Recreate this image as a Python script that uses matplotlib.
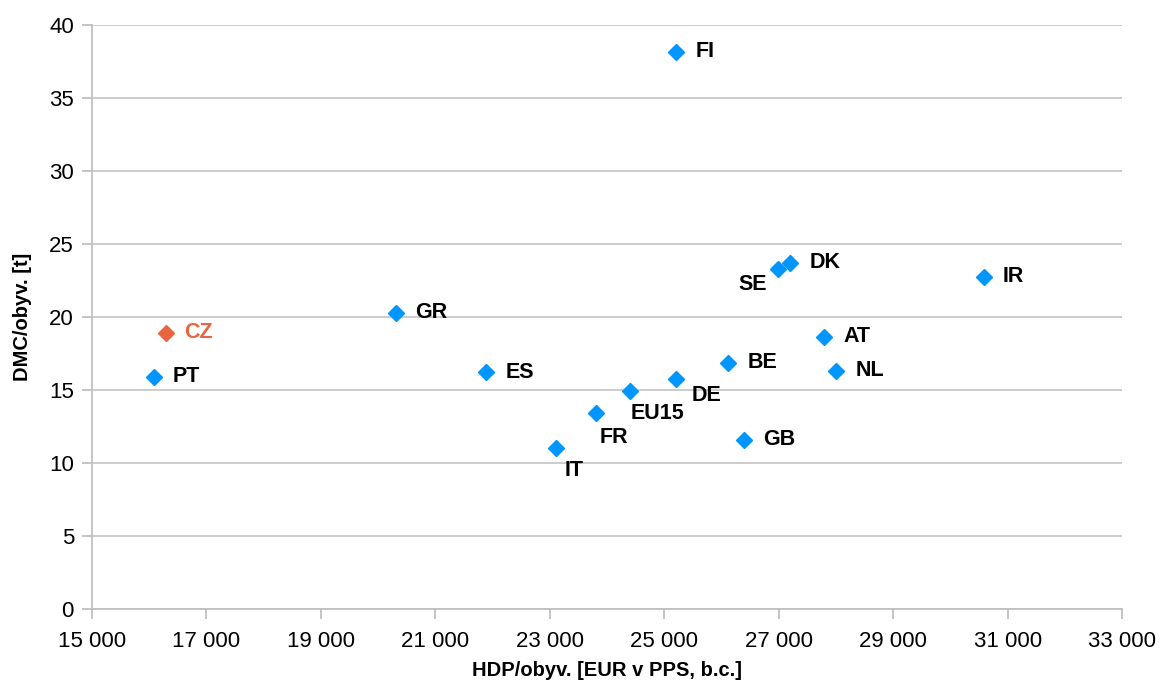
import matplotlib.pyplot as plt
from matplotlib.ticker import FuncFormatter, MultipleLocator

plt.rcParams['font.family'] = ['Liberation Sans', 'DejaVu Sans']

# data: HDP/obyv. vs DMC/obyv.
countries = ['FI', 'PT', 'GR', 'ES', 'IT', 'FR', 'EU15', 'DE', 'BE', 'GB',
             'SE', 'DK', 'IR', 'AT', 'NL']
hdp = [25210, 16080, 20310, 21890, 23110, 23810, 24410, 25210, 26120, 26400,
       26980, 27200, 30590, 27800, 28010]
dmc = [38.15, 15.91, 20.3, 16.23, 11.0, 13.45, 14.95, 15.75, 16.87, 11.58,
       23.29, 23.72, 22.76, 18.65, 16.32]

cz_hdp = 16290
cz_dmc = 18.92

x_ticks = [15000, 17000, 19000, 21000, 23000, 25000, 27000, 29000, 31000, 33000]

blue = '#0096FF'
orange = '#E8653F'

# label offsets in pixels (dx, dy, ha)
offsets = {
    'SE': (-11, -16, 'right'),
    'IT': (9, -22, 'left'),
    'FR': (3, -25, 'left'),
    'EU15': (0, -23, 'left'),
    'DE': (15, -16, 'left'),
}

fig = plt.figure(figsize=(11.62, 6.9), dpi=100)
ax = fig.add_axes([0.0792, 0.1174, 0.8864, 0.8464])

ax.plot(hdp, dmc, linestyle='none', marker='D', markersize=8.5,
        color=blue, zorder=3, clip_on=False)
ax.plot([cz_hdp], [cz_dmc], linestyle='none', marker='D', markersize=8.5,
        color=orange, zorder=3, clip_on=False)

for name, x, y in zip(countries, hdp, dmc):
    dx, dy, ha = offsets.get(name, (19, 0, 'left'))
    ax.annotate(name, (x, y), xytext=(dx, dy), textcoords='offset pixels',
                ha=ha, va='center', fontsize=15.5, fontweight='bold',
                color='black')
ax.annotate('CZ', (cz_hdp, cz_dmc), xytext=(18, 0), textcoords='offset pixels',
            ha='left', va='center', fontsize=15.5, fontweight='bold',
            color=orange)

ax.set_xlim(15000, 33000)
ax.set_ylim(0, 40)
ax.set_xticks(x_ticks)
ax.yaxis.set_major_locator(MultipleLocator(5))
ax.xaxis.set_major_formatter(FuncFormatter(lambda v, p: f'{int(v):,}'.replace(',', ' ')))

ax.grid(axis='y', color='#C8C8C8', linewidth=1.3)
ax.set_axisbelow(True)
for s in ['top', 'right']:
    ax.spines[s].set_visible(False)
for s in ['left', 'bottom']:
    ax.spines[s].set_color('#C0C0C0')
    ax.spines[s].set_linewidth(1.3)
ax.tick_params(axis='both', colors='#C0C0C0', length=7, width=1.3,
               labelcolor='black', labelsize=16)
ax.tick_params(axis='x', pad=9)
ax.tick_params(axis='y', pad=6)

ax.set_xlabel('HDP/obyv. [EUR v PPS, b.c.]', fontsize=14.5, fontweight='bold', labelpad=6)
ax.set_ylabel('DMC/obyv. [t]', fontsize=14.5, fontweight='bold', labelpad=12)

fig.savefig('out.png', dpi=100)
